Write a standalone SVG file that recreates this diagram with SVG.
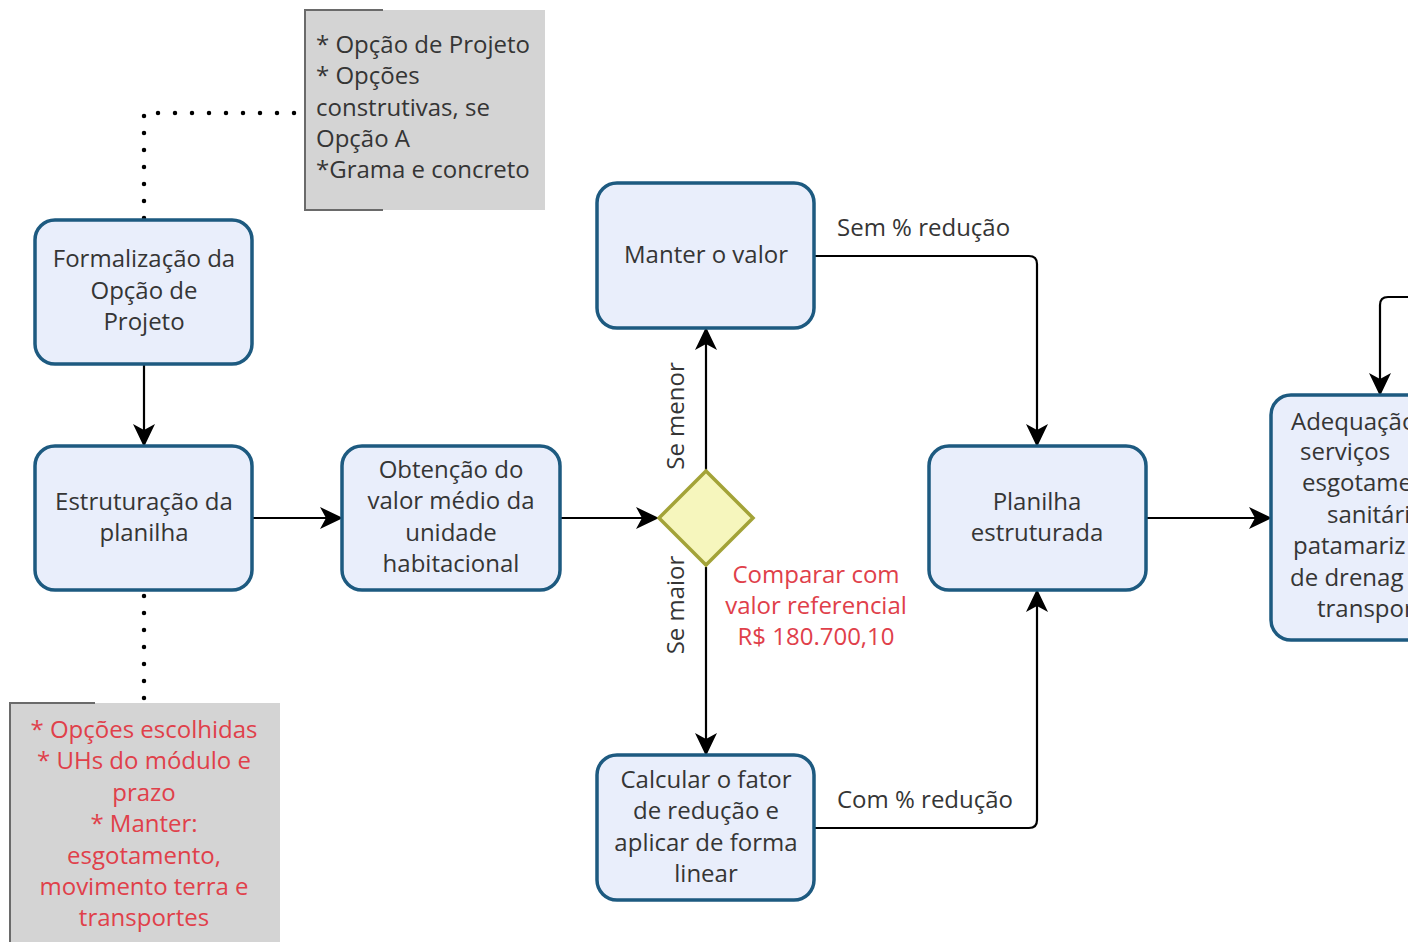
<svg xmlns="http://www.w3.org/2000/svg" width="1422" height="942" viewBox="0 0 1422 942">
<style>
.node{fill:#e9eefb;stroke:#1d5a80;stroke-width:3.5}
.t{font-family:"Open Sans","Noto Sans",sans-serif;font-size:24px;fill:#353535;text-anchor:middle}
.tl{font-family:"Open Sans","Noto Sans",sans-serif;font-size:24px;fill:#353535}
.red{fill:#e0404a}
.c{fill:none;stroke:#000;stroke-width:2.2}
.dot{fill:none;stroke:#000;stroke-width:4.5;stroke-linecap:round;stroke-dasharray:0 17}
.ann{fill:#d4d4d4}
.br{fill:none;stroke:#6a6a6a;stroke-width:2}
</style>
<defs>
<marker id="arr" markerUnits="userSpaceOnUse" markerWidth="24" markerHeight="24" viewBox="0 0 24 24" refX="22" refY="12" orient="auto">
<path d="M0,1 L23,12 L0,23 L6,12 Z" fill="#000"/>
</marker>
<clipPath id="cut"><rect x="0" y="0" width="1408" height="942"/></clipPath>
</defs>
<rect width="1422" height="942" fill="#fff"/>

<g id="annotation-top">
<rect class="ann" x="305" y="10" width="240" height="200"/>
<path class="br" d="M383,10 H305 V210 H383"/>
<text class="tl" x="316" y="53">* Opção de Projeto</text>
<text class="tl" x="316" y="84">* Opções</text>
<text class="tl" x="316" y="116">construtivas, se</text>
<text class="tl" x="316" y="147">Opção A</text>
<text class="tl" x="316" y="178">*Grama e concreto</text>
</g>

<g id="annotation-bottom">
<rect class="ann" x="10" y="703" width="270" height="239"/>
<path class="br" d="M95,703 H10 V942"/>
<text class="t red" x="144" y="738">* Opções escolhidas</text>
<text class="t red" x="144" y="769">* UHs do módulo e</text>
<text class="t red" x="144" y="801">prazo</text>
<text class="t red" x="144" y="832">* Manter:</text>
<text class="t red" x="144" y="864">esgotamento,</text>
<text class="t red" x="144" y="895">movimento terra e</text>
<text class="t red" x="144" y="926">transportes</text>
</g>

<g id="connectors">
<path class="dot" d="M144,218 V113 H300"/>
<path class="dot" d="M144,596 V700"/>
<path class="c" d="M144,364 V446" marker-end="url(#arr)"/>
<path class="c" d="M252,518 H342" marker-end="url(#arr)"/>
<path class="c" d="M560,518 H658" marker-end="url(#arr)"/>
<path class="c" d="M706,470 V328" marker-end="url(#arr)"/>
<path class="c" d="M706,567 V755" marker-end="url(#arr)"/>
<path class="c" d="M814,256 H1029 Q1037,256 1037,264 V446" marker-end="url(#arr)"/>
<path class="c" d="M814,828 H1029 Q1037,828 1037,820 V590" marker-end="url(#arr)"/>
<path class="c" d="M1146,518 H1271" marker-end="url(#arr)"/>
<path class="c" d="M1408,297 H1388 Q1380,297 1380,305 V395" marker-end="url(#arr)"/>
<text class="tl" x="837" y="236">Sem % redução</text>
<text class="tl" x="837" y="808">Com % redução</text>
<text class="t" transform="translate(684,416) rotate(-90)">Se menor</text>
<text class="t" transform="translate(684,605) rotate(-90)">Se maior</text>
<text class="t red" x="816" y="583">Comparar com</text>
<text class="t red" x="816" y="614">valor referencial</text>
<text class="t red" x="816" y="645">R$ 180.700,10</text>
</g>

<g id="node-formalizacao">
<rect class="node" x="35" y="220" width="217" height="144" rx="20"/>
<text class="t" x="144" y="267">Formalização da</text>
<text class="t" x="144" y="299">Opção de</text>
<text class="t" x="144" y="330">Projeto</text>
</g>

<g id="node-estruturacao">
<rect class="node" x="35" y="446" width="217" height="144" rx="20"/>
<text class="t" x="144" y="510">Estruturação da</text>
<text class="t" x="144" y="541">planilha</text>
</g>

<g id="node-obtencao">
<rect class="node" x="342" y="446" width="218" height="144" rx="20"/>
<text class="t" x="451" y="478">Obtenção do</text>
<text class="t" x="451" y="509">valor médio da</text>
<text class="t" x="451" y="541">unidade</text>
<text class="t" x="451" y="572">habitacional</text>
</g>

<g id="node-gateway">
<path d="M706,471 L753,518 L706,565 L659,518 Z" fill="#f6f6bd" stroke="#a3a338" stroke-width="3.5"/>
</g>

<g id="node-manter">
<rect class="node" x="597" y="183" width="217" height="145" rx="20"/>
<text class="t" x="706" y="263">Manter o valor</text>
</g>

<g id="node-calcular">
<rect class="node" x="597" y="755" width="217" height="145" rx="20"/>
<text class="t" x="706" y="788">Calcular o fator</text>
<text class="t" x="706" y="819">de redução e</text>
<text class="t" x="706" y="851">aplicar de forma</text>
<text class="t" x="706" y="882">linear</text>
</g>

<g id="node-planilha">
<rect class="node" x="929" y="446" width="217" height="144" rx="20"/>
<text class="t" x="1037" y="510">Planilha</text>
<text class="t" x="1037" y="541">estruturada</text>
</g>

<g id="node-adequacao" clip-path="url(#cut)">
<rect class="node" x="1271" y="395" width="220" height="245" rx="20"/>
<text class="tl" x="1291" y="430">Adequação</text>
<text class="tl" x="1300" y="460">serviços</text>
<text class="tl" x="1302" y="491">esgotame</text>
<text class="tl" x="1327" y="523">sanitári</text>
<text class="tl" x="1293" y="554">patamariz</text>
<text class="tl" x="1290" y="586">de drenag</text>
<text class="tl" x="1317" y="617">transpor</text>
</g>
</svg>
